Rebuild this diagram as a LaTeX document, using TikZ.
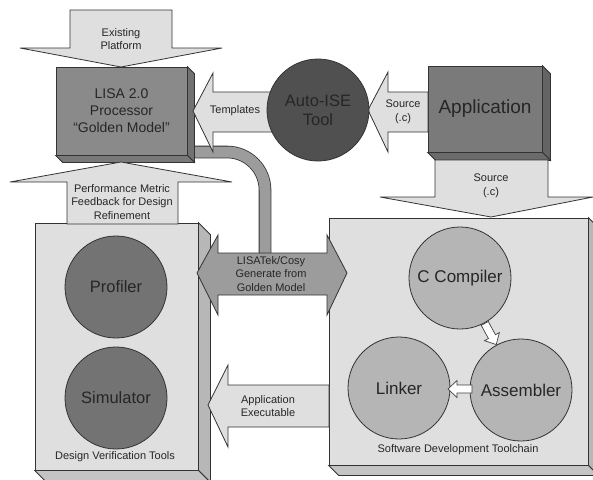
\documentclass[tikz,border=0pt]{standalone}
\usepackage{fontspec}
\setmainfont{Liberation Sans}

\definecolor{lightgray}{HTML}{DFDFDF}
\definecolor{lisagray}{HTML}{8A8A8A}
\definecolor{appgray}{HTML}{7A7A7A}
\definecolor{isegray}{HTML}{505050}
\definecolor{toolgray}{HTML}{737373}
\definecolor{chaingray}{HTML}{B5B5B5}
\definecolor{pipegray}{HTML}{9C9C9C}

\tikzset{
  outline/.style={draw=black!80, line width=0.8pt},
  blockarrow/.style={outline, fill=lightgray},
  smalltext/.style={font=\fontsize{11}{13.5}\selectfont, align=center, text=black!85},
  boxtext/.style={font=\fontsize{14}{17}\selectfont, align=center, text=black!85},
  tool/.style={outline, circle, minimum size=102pt, inner sep=0pt,
    font=\fontsize{16.5}{19}\selectfont, align=center, text=black!85},
  hollow/.style={draw=black!75, line width=0.7pt, fill=white, line join=miter}
}

\begin{document}
\begin{tikzpicture}[x=1pt, y=-1pt]
        \clip (0,0) rectangle (593,479);

        % pipe from the golden model down to the generator arrow
        \draw[draw=black!80, line width=0.8pt, double=pipegray, double distance=11pt,
              rounded corners=38pt] (180,152) -- (265,152) -- (265,262);

        % boxes
        \node[outline, fill=lightgray, minimum width=163pt, minimum height=247pt] (verify) at (116.5,346.5) {};
        \node[outline, fill=lightgray, minimum width=259pt, minimum height=247pt] (swchain) at (458.5,341.5) {};
        \node[outline, fill=lisagray, minimum width=131pt, minimum height=88pt, boxtext] (lisa) at (121.5,111)
             {LISA 2.0\\Processor\\``Golden Model''};
        \node[outline, fill=appgray, minimum width=114pt, minimum height=86pt,
              font=\fontsize{19}{22}\selectfont, text=black!85] (app) at (485,109) {Application};
        \foreach \b/\d/\c in {verify/12/lightgray, swchain/10/lightgray, lisa/7/lisagray, app/8/appgray} {
            \draw[outline, fill=\c!82!black] (\b.north east) -- ++(\d,\d) -- ([shift={(\d,\d)}]\b.south east)
                 -- (\b.south east) -- cycle;
            \draw[outline, fill=\c!88!black] (\b.south west) -- (\b.south east) -- ([shift={(\d,\d)}]\b.south east)
                 -- ([shift={(\d,\d)}]\b.south west) -- cycle;
        }

        % tools
        \node[tool, fill=toolgray] (profiler) at (116,287) {Profiler};
        \node[tool, fill=toolgray] (simulator) at (116,398) {Simulator};
        \node[smalltext] (verifylabel) at (115,457) {Design Verification Tools};
        \node[tool, fill=chaingray, font=\fontsize{17}{19}\selectfont] (compiler) at (460,278) {C Compiler};
        \node[tool, fill=chaingray, font=\fontsize{17}{19}\selectfont] (assembler) at (521,390) {Assembler};
        \node[tool, fill=chaingray, font=\fontsize{17}{19}\selectfont] (linker) at (399,388) {Linker};
        \node[smalltext] (chainlabel) at (458,450) {Software Development Toolchain};

        % small hollow arrows inside the toolchain
        \path (compiler) -- (assembler) coordinate[midway] (ca);
        \path (assembler) -- (linker) coordinate[midway] (al);
        \foreach \m/\r in {ca/-61.4, al/180} {
            \draw[hollow, shift={(\m)}, rotate=\r] (-12,-4) -- (3,-4) -- (3,-8.5) -- (12,0) -- (3,8.5) -- (3,4)
                 -- (-12,4) -- cycle;
        }

        % block arrows
        \draw[blockarrow] (70,10) -- (172,10) -- (172,48) -- (222,48) -- (121,67) -- (20,48) -- (70,48) -- cycle;
        \node[smalltext] (existing) at (121,39) {Existing\\Platform};

        \draw[blockarrow] (121,162) -- (232,182) -- (178,182) -- (178,224) -- (67,224) -- (67,182) -- (10,182) -- cycle;
        \node[smalltext] (feedback) at (122,202) {Performance Metric\\Feedback for Design\\Refinement};

        \draw[blockarrow] (193,111) -- (213,73) -- (213,92) -- (285,92) -- (285,132) -- (213,132) -- (213,152) -- cycle;
        \node[smalltext] (templates) at (235,111) {Templates};

        \draw[blockarrow] (368,110) -- (388,72) -- (388,92) -- (428,92) -- (428,132) -- (388,132) -- (388,152) -- cycle;
        \node[smalltext] (srcleft) at (403,112) {Source\\(.c)};

        \draw[blockarrow] (435,160) -- (548,160) -- (548,197) -- (593,197) -- (491,217) -- (380,197) -- (435,197) -- cycle;
        \node[smalltext] (srcdown) at (491,186) {Source\\(.c)};

        \draw[outline, fill=pipegray] (197,273) -- (218,235) -- (218,253) -- (327,253) -- (327,235) -- (347,273)
             -- (327,315) -- (327,295) -- (218,295) -- (218,315) -- cycle;
        \node[smalltext] (lisatek) at (271,274) {LISATek/Cosy\\Generate from\\Golden Model};

        \draw[blockarrow] (208,405) -- (228,365) -- (228,385) -- (329,385) -- (329,427) -- (228,427) -- (228,447) -- cycle;
        \node[smalltext] (executable) at (268,406) {Application\\Executable};

        \node[tool, fill=isegray] (autoise) at (318,110) {Auto-ISE\\Tool};
    \end{tikzpicture}
\end{document}
